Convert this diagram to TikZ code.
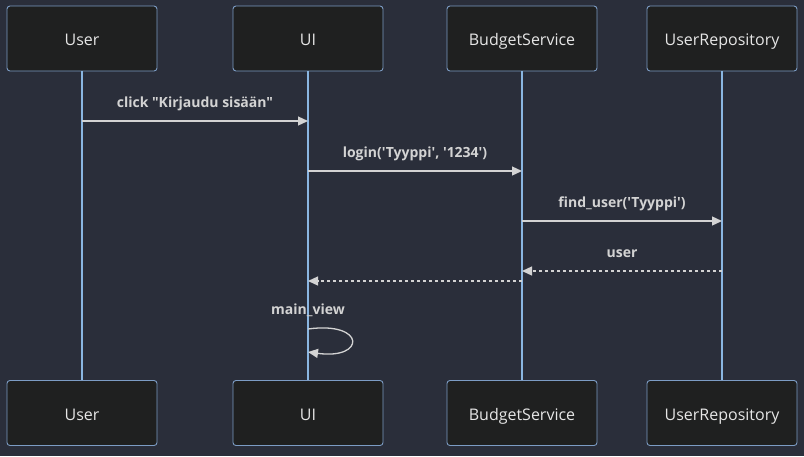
\documentclass[tikz,border=0pt]{standalone}
\usepackage{fontspec}
\setmainfont{Open Sans}[Ligatures=TeXOff]
\usetikzlibrary{arrows.meta, calc}

\definecolor{bgcol}{HTML}{2A2E3A}
\definecolor{actorfill}{HTML}{1F2020}
\definecolor{actorline}{HTML}{7C9CC4}
\definecolor{lifecol}{HTML}{8AB6E2}
\definecolor{msgcol}{HTML}{D3D3D3}
\definecolor{textcol}{HTML}{E6E6E6}

\begin{document}
\begin{tikzpicture}[
		x=1pt, y=-1pt,
		actor/.style={draw=actorline, fill=actorfill, rounded corners=3pt, line width=0.9pt,
			minimum width=150pt, minimum height=65pt, text=textcol, text height=15pt, text depth=1pt,
			font=\fontsize{16}{18}\selectfont},
		life/.style={draw=lifecol, line width=1.5pt},
		msg/.style={draw=msgcol, line width=1.3pt, -{Triangle[length=10pt, width=9pt]}},
		reply/.style={msg, dash pattern=on 3pt off 3pt},
		msgtext/.style={text=msgcol, font=\fontsize{14}{16}\selectfont\bfseries, inner sep=0pt,
			text height=10.5pt, text depth=3pt}
	]
	\fill[bgcol] (0,0) rectangle (804,456);
	\useasboundingbox (0,0) rectangle (804,456);
	
	% actors
	\node[actor] (user) at (82,38.5) {User};
	\node[actor] (ui) at (308,38.5) {UI};
	\node[actor] (budget) at (522,38.5) {BudgetService};
	\node[actor] (repo) at (722,38.5) {UserRepository};
	
	\node[actor] (userb) at (82,413) {User};
	\node[actor] (uib) at (308,413) {UI};
	\node[actor] (budgetb) at (522,413) {BudgetService};
	\node[actor] (repob) at (722,413) {UserRepository};
	
	% lifelines
	\draw[life] (user) -- (userb);
	\draw[life] (ui) -- (uib);
	\draw[life] (budget) -- (budgetb);
	\draw[life] (repo) -- (repob);
	
	% message levels
	\coordinate (m1) at (0,121);
	\coordinate (m2) at (0,171);
	\coordinate (m3) at (0,221);
	\coordinate (m4) at (0,271);
	\coordinate (m5) at (0,281);
	\coordinate (s1) at (0,329);
	\coordinate (s2) at (0,352);
	
	\draw[msg] (user |- m1) -- (ui |- m1) node[msgtext, midway, above=10pt]{click "Kirjaudu sisään"};
	\draw[msg] (ui |- m2) -- (budget |- m2) node[msgtext, midway, above=10pt]{login('Tyyppi', '1234')};
	\draw[msg] (budget |- m3) -- (repo |- m3) node[msgtext, midway, above=10pt]{find\_user('Tyyppi')};
	\draw[reply] (repo |- m4) -- (budget |- m4) node[msgtext, midway, above=10pt]{user};
	\draw[reply] (budget |- m5) -- (ui |- m5);
	
	\draw[msg] (ui |- s1) .. controls +(58,-8) and +(58,8) .. (ui |- s2);
	\node[msgtext] (selflabel) at ($(ui |- s1)+(0,-18)$) {main\_view};
\end{tikzpicture}
\end{document}
